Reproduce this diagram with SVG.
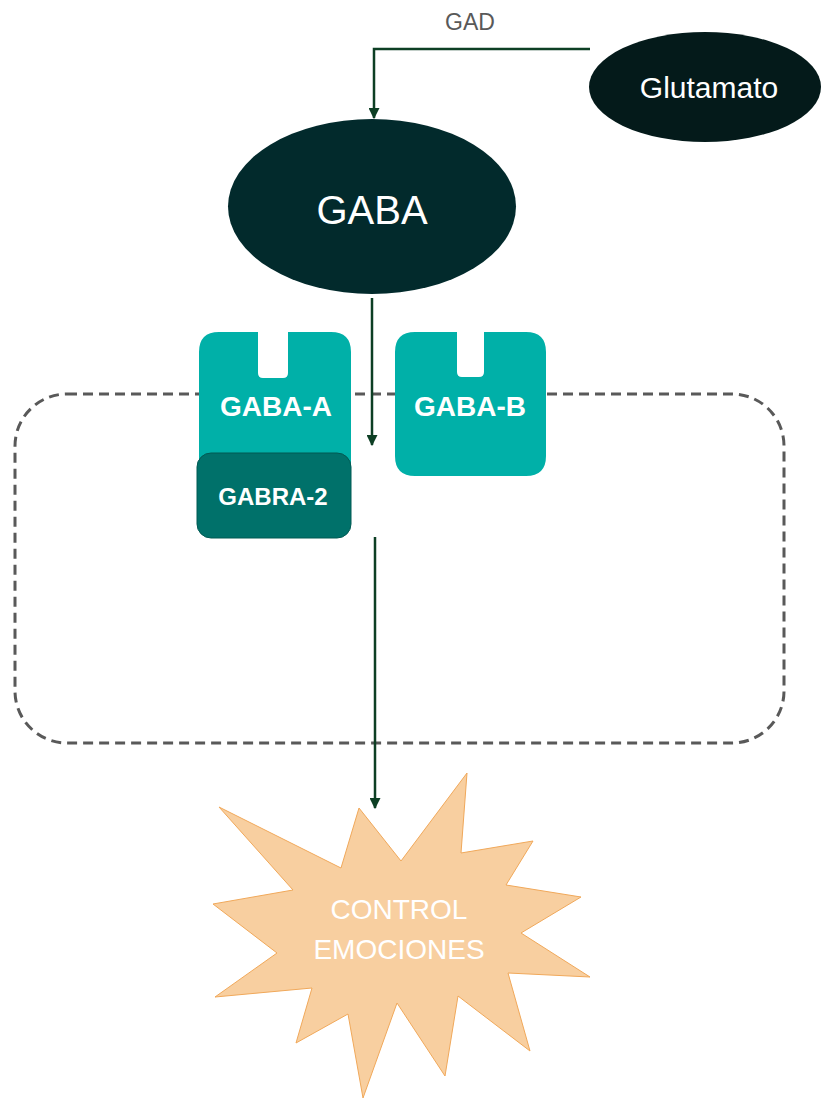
<svg xmlns="http://www.w3.org/2000/svg" width="821" height="1099" viewBox="0 0 821 1099">
<style>
.lbl{font-family:"Liberation Sans",Arial,sans-serif;fill:#ffffff;text-anchor:middle}
.rec{fill:#00b0a8}
.conn{stroke:#0d3f24;stroke-width:2.5;fill:none}
</style>
<defs>
<marker id="ah" viewBox="0 0 10 10" refX="9" refY="5" markerWidth="4.4" markerHeight="4.4" orient="auto" markerUnits="strokeWidth">
<path d="M0,0 L10,5 L0,10 Z" fill="#0d3f24"/>
</marker>
</defs>
<rect width="821" height="1099" fill="#ffffff"/>
<g id="membrane">
<rect x="15" y="394" width="769" height="349" rx="52" ry="52" fill="none" stroke="#595959" stroke-width="3" stroke-dasharray="10,6"/>
</g>
<g id="glutamato">
<ellipse cx="705" cy="87" rx="116" ry="55" fill="#041a1a"/>
<text class="lbl" x="709" y="98" font-size="30">Glutamato</text>
</g>
<g id="gaba">
<ellipse cx="372" cy="206.5" rx="144" ry="87.5" fill="#022a2c"/>
<text class="lbl" x="372" y="224" font-size="40">GABA</text>
</g>
<g id="gaba-a">
<path class="rec" d="M219,332 H258 V373 Q258,378 263,378 H283 Q288,378 288,373 V332 H331 Q351,332 351,352 V472 H199 V352 Q199,332 219,332 Z"/>
<text class="lbl" x="276" y="416" font-size="28" font-weight="bold">GABA-A</text>
</g>
<g id="gabra-2">
<rect x="197" y="453" width="154" height="85" rx="14" ry="14" fill="#00716a" stroke="#005a53" stroke-width="1"/>
<text class="lbl" x="273" y="505" font-size="24" font-weight="bold">GABRA-2</text>
</g>
<g id="gaba-b">
<path class="rec" d="M415,332 H457 V372 Q457,377 462,377 H479 Q484,377 484,372 V332 H526 Q546,332 546,352 V456 Q546,476 526,476 H415 Q395,476 395,456 V352 Q395,332 415,332 Z"/>
<text class="lbl" x="470" y="416" font-size="28" font-weight="bold">GABA-B</text>
</g>
<g id="control">
<polygon fill="#f8cfa0" stroke="#f0a85a" stroke-width="1" points="359,808 401,861 467,773 461,853 533,841 506,885 581,897 521,933 590,977 508,973 530,1051 458,996 445,1076 397,1003 363,1098 348,1014 296,1043 312,988 215,997 277,953 213,904 293,890 219,807 341,868"/>
<text class="lbl" x="399" y="919" font-size="28" fill="#fdf6ec">CONTROL</text>
<text class="lbl" x="399" y="959" font-size="28" fill="#fdf6ec">EMOCIONES</text>
</g>
<g id="connectors">
<path class="conn" d="M590,49 H374 V118" marker-end="url(#ah)"/>
<text x="470" y="30" font-family="Liberation Sans,Arial,sans-serif" font-size="23" fill="#595959" text-anchor="middle">GAD</text>
<path class="conn" d="M372,298 V445" marker-end="url(#ah)"/>
<path class="conn" d="M375,537 V808" marker-end="url(#ah)"/>
</g>
</svg>
